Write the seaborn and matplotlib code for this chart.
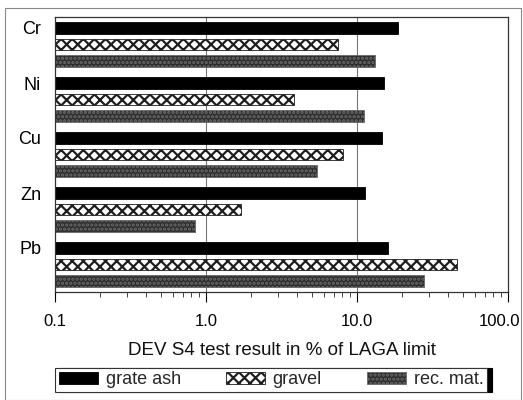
import pandas as pd
import matplotlib.pyplot as plt
import seaborn as sns
from matplotlib.patches import Patch, Rectangle
from matplotlib.transforms import ScaledTranslation
from matplotlib.ticker import FixedLocator, LogLocator, NullFormatter, FuncFormatter

# values (% of LAGA limit, log scale)
metals = ['Cr', 'Ni', 'Cu', 'Zn', 'Pb']
materials = ['grate ash', 'gravel', 'rec. mat.']
grate_ash = [18.7, 15.1, 14.7, 11.3, 16.0]
gravel = [7.5, 3.8, 8.1, 1.7, 45.9]
rec_mat = [13.2, 11.1, 5.4, 0.85, 27.7]

df = pd.DataFrame({
    'metal': metals * 3,
    'material': [m for m in materials for _ in metals],
    'value': grate_ash + gravel + rec_mat,
})

sns.set_theme(style='white')
plt.rcParams['font.family'] = ['Liberation Sans', 'DejaVu Sans']
plt.rcParams['hatch.linewidth'] = 1.6

fig = plt.figure(figsize=(5.23, 4.0), dpi=100)
ax = fig.add_axes([55 / 523, 1 - 292 / 400, 453 / 523, 275 / 400])

styles = {
    'grate ash': dict(face='black', edge='black', hatch=None),
    'gravel': dict(face='white', edge='#1e1e1e', hatch='xxx'),
    'rec. mat.': dict(face='#2e2e2e', edge='#6a6a6a', hatch='....'),
}

sns.barplot(data=df, y='metal', x='value', hue='material', order=metals,
            hue_order=materials, orient='h', width=0.9, gap=0.33,
            palette=['black', 'white', '#2e2e2e'], saturation=1,
            legend=False, log_scale=True, ax=ax)

for cont, mat in zip(ax.containers, materials):
    st = styles[mat]
    for bar in cont:
        bar.set_facecolor(st['face'])
        bar.set_edgecolor(st['edge'])
        bar.set_linewidth(0.6)
        if st['hatch']:
            bar.set_hatch(st['hatch'])

ax.set_xscale('log')
ax.set_xlim(0.1, 100)
ax.set_ylim(4.5, -0.5)
ax.xaxis.set_major_locator(FixedLocator([0.1, 1, 10, 100]))
ax.xaxis.set_major_formatter(FuncFormatter(lambda v, p: f'{v:.1f}'))
ax.xaxis.set_minor_locator(LogLocator(base=10, subs=range(2, 10)))
ax.xaxis.set_minor_formatter(NullFormatter())
ax.tick_params(axis='x', which='major', direction='out', length=7, width=0.8,
               bottom=True, labelsize=12, pad=9, colors='black')
ax.tick_params(axis='x', which='minor', direction='out', length=3.5, width=0.6,
               bottom=True)

# category labels sit at the top bar of each group
ax.set_yticks([i - 0.3 for i in range(len(metals))], metals)
ax.tick_params(axis='y', length=0, labelsize=13, pad=10, colors='black')

for v in [1, 10]:
    ax.axvline(v, color='#777777', lw=0.8, zorder=0)

for s in ax.spines.values():
    s.set_color('#333333')
    s.set_linewidth(0.9)

ax.set_ylabel('')
ax.set_xlabel('DEV S4 test result in % of LAGA limit', fontsize=13.5,
              labelpad=9.5, color='#111111')

# the last tick label touches the right edge in the original
last = ax.xaxis.get_major_ticks()[-1].label1
last.set_transform(last.get_transform() + ScaledTranslation(-8 / 100, 0, fig.dpi_scale_trans))

handles = [Patch(facecolor=styles[m]['face'], edgecolor=styles[m]['edge'],
                 hatch=styles[m]['hatch'], linewidth=0.6, label=m) for m in materials]
leg = fig.legend(handles=handles, loc='lower left', ncol=3, mode='expand',
                 bbox_to_anchor=(55 / 523, 8 / 400, 432 / 523, 24 / 400),
                 frameon=True, fancybox=False,
                 shadow={'color': 'black', 'alpha': 1, 'ox': 3.5, 'oy': 0},
                 fontsize=13, handlelength=2.2, handleheight=0.6, handletextpad=0.4,
                 borderaxespad=0, borderpad=0.2, labelspacing=0)
leg.get_frame().set_edgecolor('#333333')
leg.get_frame().set_linewidth(0.8)

fig.patches.append(Rectangle((5 / 523, 0.0), 516 / 523, 1 - 8 / 400,
                             transform=fig.transFigure, fill=False,
                             edgecolor='#888888', linewidth=0.8))

fig.savefig('out.png', dpi=100)
